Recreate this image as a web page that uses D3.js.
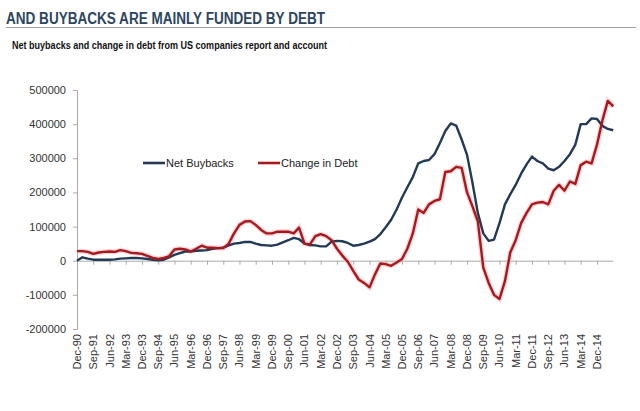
<!DOCTYPE html>
<meta charset="utf-8">
<title>Buybacks and debt</title>
<body>
<script src="https://cdn.jsdelivr.net/npm/d3@7"></script>
<style>
html, body {
    margin: 0;
    background: #fff;
}
svg {
    display: block;
    font-family: "Liberation Sans", Arial, sans-serif;
}
</style>
<script>
// quarterly values, Dec-90 onwards (thousands)
var netBuybacks = [
    0, 10, 6, 3, 3, 3, 3, 4, 6, 7, 8, 8, 7, 5, 3, 1, 3, 10, 17, 22,
    27, 27, 29, 30, 31, 35, 37, 38, 45, 50, 52, 55, 55, 50, 46, 45, 44, 47, 54, 60,
    67, 63, 50, 46, 45, 42, 42, 56, 58, 57, 52, 44, 46, 50, 56, 63, 78, 98, 120, 150,
    185, 215, 245, 285, 292, 295, 312, 345, 380, 402, 396, 355, 310, 230, 140, 80, 58, 62, 110, 165,
    195, 222, 255, 282, 305, 292, 285, 270, 265, 275, 292, 312, 340, 400, 400, 417, 415, 395, 386, 382
];
var changeInDebt = [
    28, 28, 26, 20, 24, 26, 27, 26, 31, 28, 23, 22, 20, 14, 8, 5, 8, 13, 33, 35,
    33, 27, 35, 44, 38, 38, 37, 37, 50, 80, 105, 115, 116, 105, 90, 80, 80, 85, 85, 85,
    80, 97, 50, 48, 72, 78, 72, 60, 35, 15, -3, -30, -55, -65, -78, -40, -8, -10, -15, -5,
    5, 35, 80, 150, 140, 165, 175, 180, 260, 262, 275, 272, 200, 160, 115, -20, -65, -100, -112, -60,
    25, 60, 110, 140, 165, 170, 172, 165, 205, 222, 205, 232, 225, 280, 290, 285, 340, 410, 468, 452
];
var seriesNames = ["Net Buybacks", "Change in Debt"];
var seriesColors = ["#223a57", "#a8191f"];
var tickLabels = [
    "Dec-90", "Sep-91", "Jun-92", "Mar-93", "Dec-93", "Sep-94", "Jun-95", "Mar-96", "Dec-96",
    "Sep-97", "Jun-98", "Mar-99", "Dec-99", "Sep-00", "Jun-01", "Mar-02", "Dec-02", "Sep-03",
    "Jun-04", "Mar-05", "Dec-05", "Sep-06", "Jun-07", "Mar-08", "Dec-08", "Sep-09", "Jun-10",
    "Mar-11", "Dec-11", "Sep-12", "Jun-13", "Mar-14", "Dec-14"
];
var yTicks = [-200000, -100000, 0, 100000, 200000, 300000, 400000, 500000];

var width = 640,
    height = 411;

var parse = d3.timeParse("%b-%y"),
    start = parse("Dec-90"),
    dates = netBuybacks.map(function(d, i) { return d3.timeMonth.offset(start, 3 * i); }),
    tickDates = tickLabels.map(parse);

var x = d3.scaleTime()
    .domain([tickDates[0], tickDates[tickDates.length - 1]])
    .range([77, 597]);

var y = d3.scaleLinear()
    .domain([-200000, 500000])
    .range([329, 90]);

var svg = d3.select("body").append("svg")
    .attr("width", width)
    .attr("height", height);

// header
svg.append("text")
    .attr("x", 6)
    .attr("y", 24)
    .attr("textLength", 319)
    .attr("lengthAdjust", "spacingAndGlyphs")
    .style("font-family", "'Liberation Sans Narrow', 'Liberation Sans', Arial, sans-serif")
    .style("font-size", "16px")
    .style("font-weight", "bold")
    .style("fill", "#2d4660")
    .text("AND BUYBACKS ARE MAINLY FUNDED BY DEBT");

svg.append("line")
    .attr("x1", 6).attr("x2", 636)
    .attr("y1", 27.5).attr("y2", 27.5)
    .attr("stroke", "#9aa0a6")
    .attr("stroke-width", 1);

svg.append("text")
    .attr("x", 12)
    .attr("y", 49)
    .attr("textLength", 315)
    .attr("lengthAdjust", "spacingAndGlyphs")
    .style("font-family", "'Liberation Sans Narrow', 'Liberation Sans', Arial, sans-serif")
    .style("font-size", "11px")
    .style("font-weight", "bold")
    .style("fill", "#111")
    .text("Net buybacks and change in debt from US companies report and account");

// y axis
var yAxis = svg.append("g")
    .attr("transform", "translate(77,0)")
    .call(d3.axisLeft(y)
        .tickValues(yTicks)
        .tickSize(4)
        .tickPadding(7)
        .tickFormat(function(d) { return String(d); }));

yAxis.select(".domain").attr("stroke", "#aaa");
yAxis.selectAll(".tick line").attr("stroke", "#aaa");
yAxis.selectAll(".tick text")
    .style("font-size", "11px")
    .style("font-family", "'Liberation Sans', Arial, sans-serif")
    .style("fill", "#333");

// x axis along zero
var xAxis = svg.append("g")
    .attr("transform", "translate(0," + y(0) + ")")
    .call(d3.axisBottom(x)
        .tickValues(tickDates)
        .tickSize(4)
        .tickSizeOuter(0)
        .tickFormat(""));

xAxis.select(".domain")
    .attr("stroke", "#aaa")
    .attr("d", "M" + x(tickDates[0]) + ",0.5H" + x(dates[dates.length - 1]));
xAxis.selectAll(".tick line").attr("stroke", "#aaa");

svg.append("g")
    .selectAll("text")
    .data(tickDates)
    .enter().append("text")
    .attr("transform", function(d) { return "translate(" + (x(d) + 4) + ",334) rotate(-90)"; })
    .attr("text-anchor", "end")
    .style("font-size", "11px")
    .style("fill", "#333")
    .text(function(d, i) { return tickLabels[i]; });

// lines
var line = d3.line()
    .x(function(d, i) { return x(dates[i]); })
    .y(function(d) { return y(d * 1000); });

// faint halo behind the debt line
svg.append("path")
    .attr("fill", "none")
    .attr("stroke", "#f3b9bd")
    .attr("stroke-width", 5)
    .attr("stroke-opacity", 0.6)
    .attr("d", line(changeInDebt));

[netBuybacks, changeInDebt].forEach(function(s, i) {
    svg.append("path")
        .attr("fill", "none")
        .attr("stroke", seriesColors[i])
        .attr("stroke-width", 2.4)
        .attr("stroke-linejoin", "round")
        .attr("d", line(s));
});

// legend
var legend = svg.append("g")
    .selectAll("g")
    .data(seriesNames)
    .enter().append("g")
    .attr("transform", function(d, i) { return "translate(" + [143, 258][i] + ",163)"; });

legend.append("line")
    .attr("x1", 0).attr("x2", 22)
    .attr("stroke", function(d, i) { return seriesColors[i]; })
    .attr("stroke-width", 2.6);

legend.append("text")
    .attr("x", 23)
    .attr("y", 4)
    .style("font-size", "11px")
    .style("fill", "#222")
    .text(function(d) { return d; });
</script>
